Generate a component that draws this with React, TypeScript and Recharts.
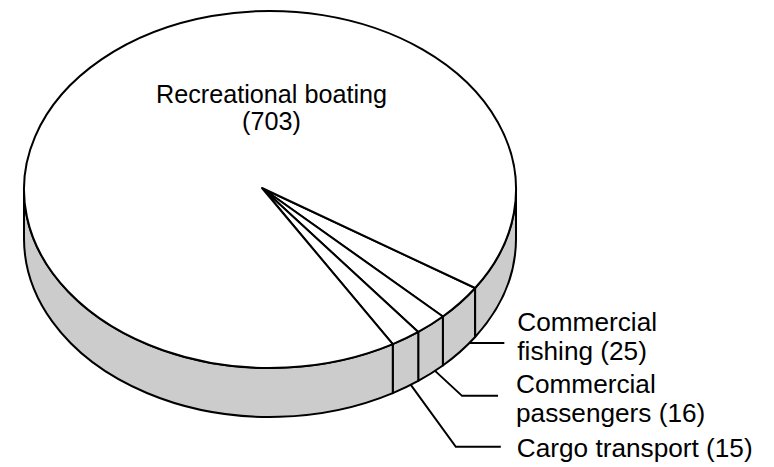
import React from 'react';
import { PieChart, Pie } from 'recharts';

// ---- data ----
const categories = ['Commercial fishing', 'Commercial passengers', 'Cargo transport', 'Recreational boating'];
const values = [25, 16, 15, 703];
const labelNameLines = [['Commercial', 'fishing'], ['Commercial', 'passengers'], ['Cargo transport'], ['Recreational boating', '']];

const data = categories.map((name, i) => ({ name, value: values[i] }));

// ---- layout ----
const CX = 270;
const CY = 189.5;
const RX = 246;
const RY = 178.5;
const K = RY / RX;
const DEPTH = 49;
const START_ANGLE = -33.5;
const APEX_DX = -8;
const APEX_DY = -1.5;
const FONT = 'Liberation Sans, Arial, sans-serif';
const FONT_SIZE = 26.2;
const INNER_FONT_SIZE = 25.2;
const SIDE_FILL = '#cccccc';
const STROKE = '#000000';
const SW = 2;

// leader layout per label: frac along slice for the anchor, elbow offset, horizontal length, text gap, baselines relative to line y
const leaderLayout = [
  { frac: 0.2, dx: 0, dy: 0, len: 35, gap: 13, baselines: [-12, 16.5] },
  { frac: 0.33, dx: 27, dy: 25, len: 36, gap: 18, baselines: [-3, 26] },
  { frac: 0.3, dx: 45, dy: 62, len: 45, gap: 16, baselines: [10] },
  null,
];
const innerLabelOffset = { dx: 1.5, baselines: [-86.5, -59.5] };

function pt(cx: number, cy: number, r: number, theta: number, dy = 0): [number, number] {
  const t = (theta * Math.PI) / 180;
  return [cx + r * Math.cos(t), cy + r * K * Math.sin(t) + dy];
}

function wallPath(cx: number, cy: number, r: number, a: number, b: number) {
  const [x1, y1] = pt(cx, cy, r, a);
  const [x2, y2] = pt(cx, cy, r, b);
  const ry = r * K;
  return `M${x1},${y1} A${r},${ry} 0 0 1 ${x2},${y2} L${x2},${y2 + DEPTH} A${r},${ry} 0 0 0 ${x1},${y1 + DEPTH} Z`;
}

function frontIntervals(t1: number, t2: number) {
  const out: [number, number][] = [];
  for (const k of [-360, 0, 360]) {
    const a = Math.max(t1, k);
    const b = Math.min(t2, k + 180);
    if (b > a + 1e-6) out.push([a, b]);
  }
  return out;
}

function labelLines(i: number) {
  const lines = labelNameLines[i].slice();
  const last = lines.length - 1;
  lines[last] = lines[last] ? `${lines[last]} (${values[i]})` : `(${values[i]})`;
  return lines;
}

function renderSlice3D(props: any) {
  const { cx, cy, outerRadius, startAngle, endAngle, index } = props;
  const r = outerRadius;
  const ry = r * K;
  const t1 = -startAngle;
  const t2 = -endAngle;
  const [x1, y1] = pt(cx, cy, r, t1);
  const [x2, y2] = pt(cx, cy, r, t2);
  const large = t2 - t1 > 180 ? 1 : 0;
  const apX = cx + APEX_DX;
  const apY = cy + APEX_DY;
  const topPath = `M${apX},${apY} L${x1},${y1} A${r},${ry} 0 ${large} 1 ${x2},${y2} Z`;
  const walls = frontIntervals(t1, t2);
  const lines = labelLines(index);
  const lay = leaderLayout[index];

  let leader: React.ReactNode = null;
  let text: React.ReactNode = null;
  if (lay) {
    const anchorAngle = t1 + lay.frac * (t2 - t1);
    const [ax, ay] = pt(cx, cy, r, anchorAngle, DEPTH);
    const ex = ax + lay.dx;
    const ey = ay + lay.dy;
    const hx = ex + lay.len;
    leader = (
      <polyline points={`${ax},${ay} ${ex},${ey} ${hx},${ey}`} fill="none" stroke={STROKE} strokeWidth={SW} />
    );
    text = (
      <text fontFamily={FONT} fontSize={FONT_SIZE} fill="#000" textAnchor="start">
        {lines.map((ln, j) => (
          <tspan key={j} x={hx + lay.gap} y={ey + lay.baselines[j]}>
            {ln}
          </tspan>
        ))}
      </text>
    );
  } else {
    text = (
      <text fontFamily={FONT} fontSize={INNER_FONT_SIZE} fill="#000" textAnchor="middle">
        {lines.map((ln, j) => (
          <tspan key={j} x={cx + innerLabelOffset.dx} y={cy + innerLabelOffset.baselines[j]}>
            {ln}
          </tspan>
        ))}
      </text>
    );
  }

  return (
    <g key={`slice-${index}`}>
      {walls.map(([a, b], j) => (
        <path key={j} d={wallPath(cx, cy, r, a, b)} fill={SIDE_FILL} stroke={STROKE} strokeWidth={SW} strokeLinejoin="round" />
      ))}
      <path d={topPath} fill="#ffffff" stroke={STROKE} strokeWidth={SW} strokeLinejoin="round" />
      {leader}
      {text}
    </g>
  );
}

export default function App() {
  return (
    <div style={{ position: 'absolute', left: 0, top: 0, background: '#fff' }}>
      <PieChart width={774} height={467} margin={{ top: 0, right: 0, bottom: 0, left: 0 }}>
        <Pie
          data={data}
          dataKey="value"
          nameKey="name"
          cx={CX}
          cy={CY}
          innerRadius={0}
          outerRadius={RX}
          startAngle={START_ANGLE}
          endAngle={START_ANGLE - 360}
          fill="none"
          stroke="none"
          label={renderSlice3D}
          labelLine={false}
          isAnimationActive={false}
        />
      </PieChart>
    </div>
  );
}
